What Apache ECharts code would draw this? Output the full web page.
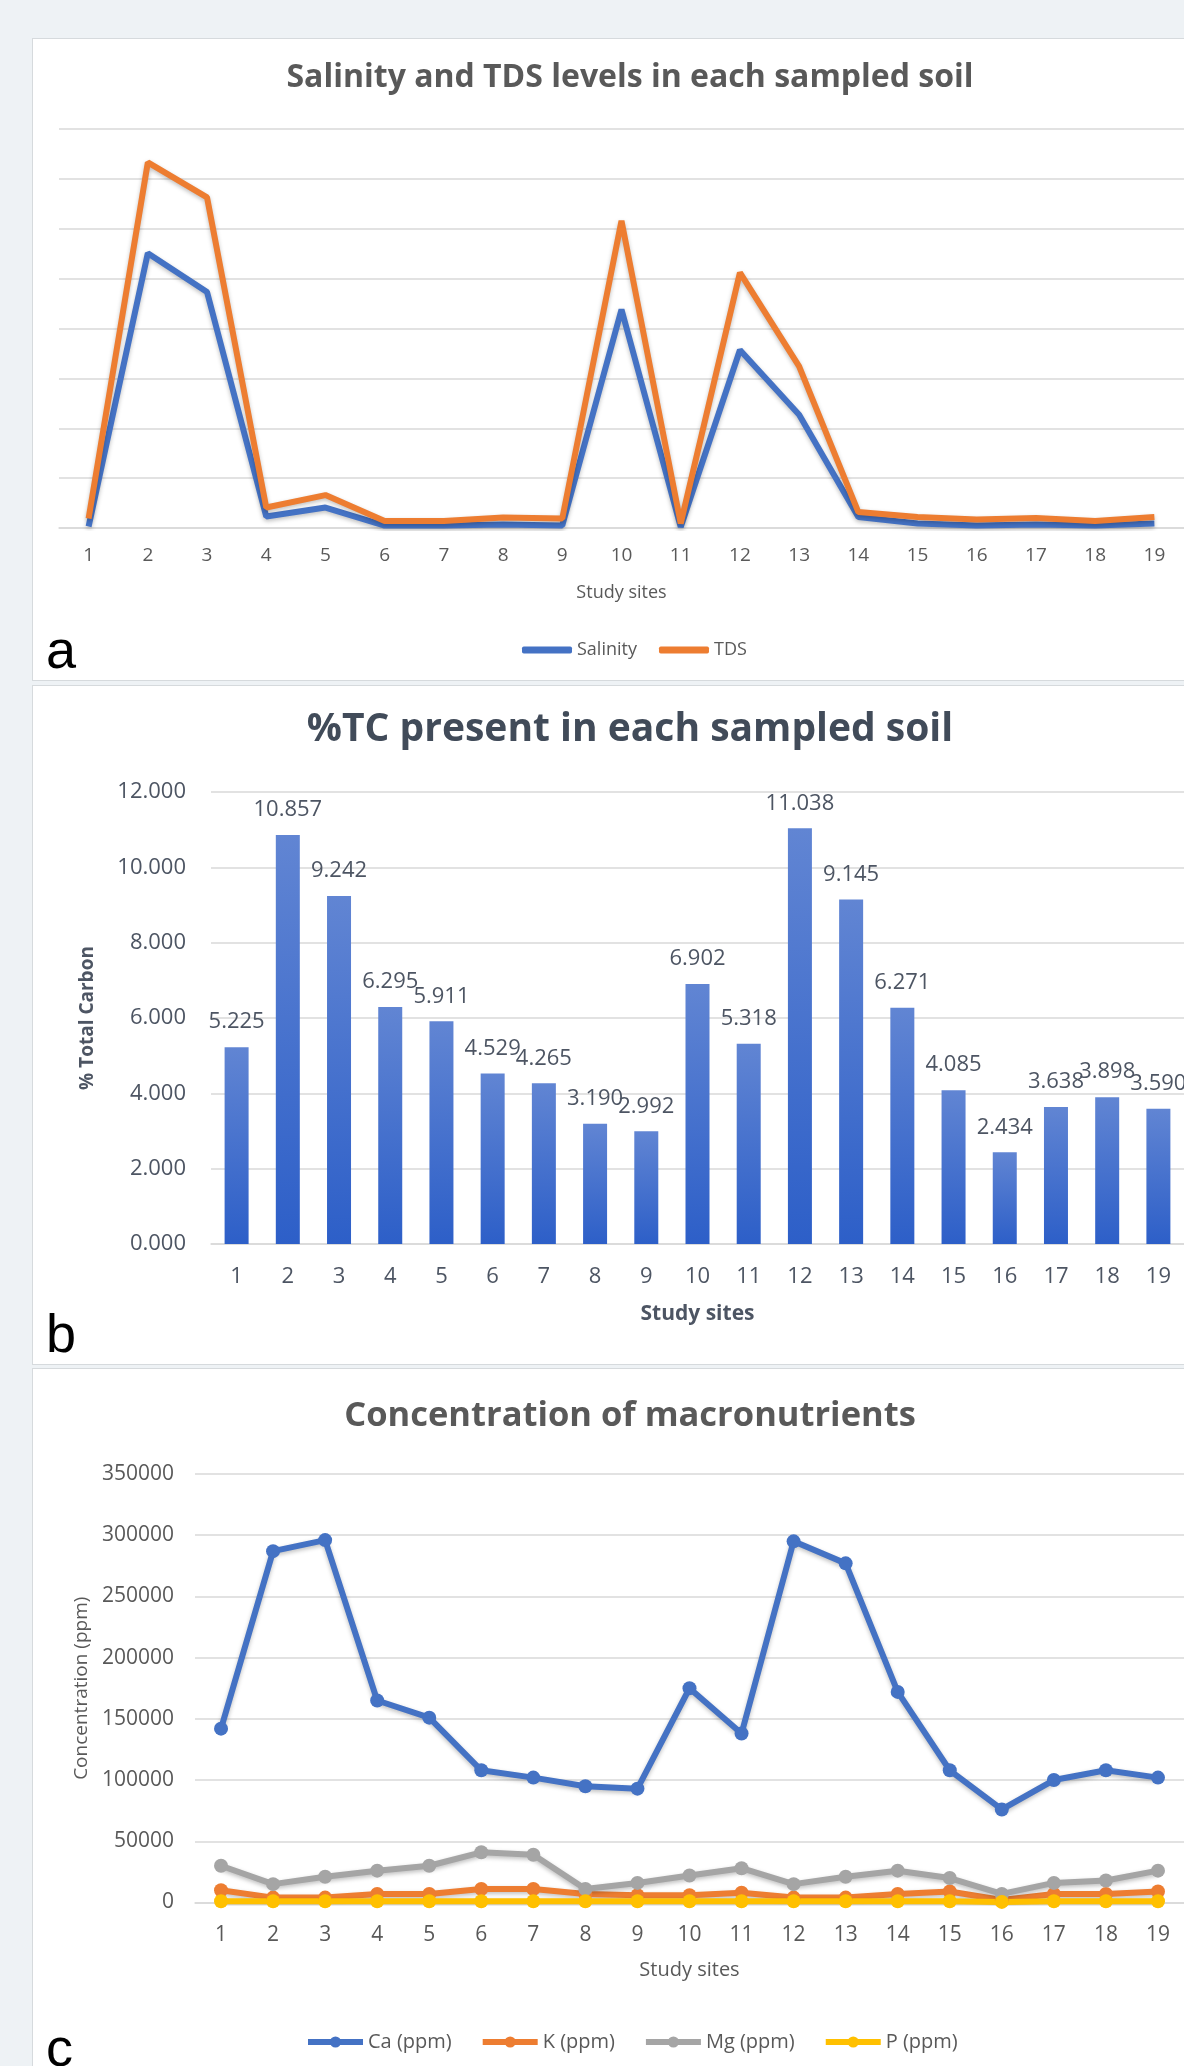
<!DOCTYPE html>
<html>
<head>
<meta charset="utf-8">
<script src="https://cdn.jsdelivr.net/npm/echarts@6/dist/echarts.min.js"></script>
<style>
  html, body { margin: 0; padding: 0; background: #eef2f5; }
  body { width: 1184px; height: 2066px; position: relative; overflow: hidden; }
  .card { position: absolute; left: 32px; width: 1210px; background: #fff; border: 1px solid #d6dadd; box-sizing: border-box; }
  #main { position: absolute; left: 0; top: 0; width: 1184px; height: 2066px; }
</style>
</head>
<body>
<div class="card" style="top:38px;height:643px"></div>
<div class="card" style="top:685px;height:680px"></div>
<div class="card" style="top:1368px;height:720px"></div>
<div id="main"></div>
<script>
// study sites (x axis of all three panels)
const sites = ['1','2','3','4','5','6','7','8','9','10','11','12','13','14','15','16','17','18','19'];

// panel a - no y labels in the source, values read in grid units
const salinity = [0.03, 5.51, 4.73, 0.23, 0.41, 0.05, 0.05, 0.07, 0.05, 4.38, 0.02, 3.57, 2.27, 0.22, 0.09, 0.05, 0.07, 0.05, 0.09];
const tds = [0.19, 7.33, 6.63, 0.41, 0.66, 0.14, 0.14, 0.21, 0.19, 6.16, 0.09, 5.12, 3.24, 0.32, 0.22, 0.17, 0.2, 0.14, 0.22];

// panel b
const totalCarbon = [5.225, 10.857, 9.242, 6.295, 5.911, 4.529, 4.265, 3.190, 2.992, 6.902, 5.318, 11.038, 9.145, 6.271, 4.085, 2.434, 3.638, 3.898, 3.590];

// panel c (ppm)
const calcium = [142000, 287000, 296000, 165000, 151000, 108000, 102000, 95000, 93000, 175000, 138000, 295000, 277000, 172000, 108000, 76000, 100000, 108000, 102000];
const potassium = [10000, 4000, 4000, 7000, 7000, 11000, 11000, 7000, 6000, 6000, 8000, 4000, 4000, 7000, 9000, 2000, 7000, 7000, 9000];
const magnesium = [30000, 15000, 21000, 26000, 30000, 41000, 39000, 11000, 16000, 22000, 28000, 15000, 21000, 26000, 20000, 7000, 16000, 18000, 26000];
const phosphorus = [1000, 1000, 1000, 1000, 1000, 1000, 1000, 1000, 1000, 1000, 1000, 1000, 1000, 1000, 1000, 500, 1000, 1000, 1000];

const FONT = 'Open Sans';
const GRAY = '#595959';
const SLATE = '#4d5563';
const GRID_LINE = { color: '#d9d9d9', width: 1.5 };

const chart = echarts.init(document.getElementById('main'));

function catAxis(idx, fontSize, margin, color, nameGap, nameBold) {
  return {
    type: 'category', gridIndex: idx, data: sites,
    axisTick: { show: false },
    axisLine: { lineStyle: GRID_LINE },
    axisLabel: { color: color, fontFamily: FONT, fontSize: fontSize, margin: margin },
    name: 'Study sites', nameLocation: 'middle', nameGap: nameGap,
    nameTextStyle: { color: color, fontFamily: FONT, fontSize: nameBold ? 21 : fontSize - 1, fontWeight: nameBold ? 'bold' : 'normal' }
  };
}

function lineSeries(name, data, color, axis, withSymbol) {
  return {
    name: name, type: 'line', data: data,
    xAxisIndex: axis, yAxisIndex: axis,
    symbol: withSymbol ? 'circle' : 'none', symbolSize: 14,
    lineStyle: { width: 6, color: color, shadowColor: 'rgba(0,0,0,0.25)', shadowBlur: 4, shadowOffsetY: 2 },
    itemStyle: { color: color },
    animation: false
  };
}

const option = {
  animation: false,
  title: [
    { text: 'Salinity and TDS levels in each sampled soil', left: 630, top: 62, textAlign: 'center', padding: 0,
      textStyle: { fontFamily: FONT, fontSize: 32, fontWeight: 'bold', color: GRAY } },
    { text: '%TC present in each sampled soil', left: 630, top: 710, textAlign: 'center', padding: 0,
      textStyle: { fontFamily: FONT, fontSize: 39, fontWeight: 'bold', color: '#414b59' } },
    { text: 'Concentration of macronutrients', left: 630, top: 1399, textAlign: 'center', padding: 0,
      textStyle: { fontFamily: FONT, fontSize: 34.5, fontWeight: 'bold', color: GRAY } },
    { text: 'a', left: 46, top: 626, padding: 0, textStyle: { fontFamily: 'Liberation Sans', fontSize: 54, fontWeight: 'normal', color: '#000' } },
    { text: 'b', left: 46, top: 1310, padding: 0, textStyle: { fontFamily: 'Liberation Sans', fontSize: 54, fontWeight: 'normal', color: '#000' } },
    { text: 'c', left: 46, top: 2024, padding: 0, textStyle: { fontFamily: 'Liberation Sans', fontSize: 54, fontWeight: 'normal', color: '#000' } }
  ],
  legend: [
    { data: ['Salinity', 'TDS'], left: 517, top: 636, icon: 'roundRect', itemWidth: 50, itemHeight: 7, itemGap: 22,
      textStyle: { fontFamily: FONT, fontSize: 18, color: GRAY } },
    { data: ['Ca (ppm)', 'K (ppm)', 'Mg (ppm)', 'P (ppm)'], left: 300, top: 2027, itemWidth: 55, itemHeight: 14, itemGap: 28,
      lineStyle: { width: 6 },
      textStyle: { fontFamily: FONT, fontSize: 20, color: GRAY } }
  ],
  grid: [
    { left: 59, top: 129, width: 1139, height: 399 },
    { left: 211, top: 792, width: 983, height: 452 },
    { left: 195, top: 1474, width: 999, height: 428.5 }
  ],
  xAxis: [
    catAxis(0, 19, 18, GRAY, 56, false),
    catAxis(1, 22, 22, SLATE, 60, true),
    catAxis(2, 21, 22, GRAY, 58, false)
  ],
  yAxis: [
    { type: 'value', gridIndex: 0, min: 0, max: 8, interval: 1,
      axisLabel: { show: false }, axisLine: { show: false }, axisTick: { show: false },
      splitLine: { lineStyle: GRID_LINE } },
    { type: 'value', gridIndex: 1, min: 0, max: 12, interval: 2,
      axisLabel: { color: SLATE, fontFamily: FONT, fontSize: 22, margin: 25, formatter: v => v.toFixed(3) },
      axisLine: { show: false }, axisTick: { show: false },
      splitLine: { lineStyle: GRID_LINE },
      name: '% Total Carbon', nameLocation: 'middle', nameGap: 114,
      nameTextStyle: { color: SLATE, fontFamily: FONT, fontSize: 19, fontWeight: 'bold' } },
    { type: 'value', gridIndex: 2, min: 0, max: 350000, interval: 50000,
      axisLabel: { color: GRAY, fontFamily: FONT, fontSize: 21, margin: 21, formatter: v => String(v) },
      axisLine: { show: false }, axisTick: { show: false },
      splitLine: { lineStyle: GRID_LINE },
      name: 'Concentration (ppm)', nameLocation: 'middle', nameGap: 102,
      nameTextStyle: { color: GRAY, fontFamily: FONT, fontSize: 19 } }
  ],
  series: [
    lineSeries('Salinity', salinity, '#4472c4', 0, false),
    lineSeries('TDS', tds, '#ed7d31', 0, false),
    {
      name: '%TC', type: 'bar', data: totalCarbon, xAxisIndex: 1, yAxisIndex: 1, barWidth: 24,
      itemStyle: { color: new echarts.graphic.LinearGradient(0, 0, 0, 1, [
        { offset: 0, color: '#6185d3' }, { offset: 1, color: '#2d5fc8' }]) },
      label: { show: true, position: 'top', distance: 14, color: SLATE, fontFamily: FONT, fontSize: 22,
        formatter: p => p.value.toFixed(3) }
    },
    lineSeries('Ca (ppm)', calcium, '#4472c4', 2, true),
    lineSeries('K (ppm)', potassium, '#ed7d31', 2, true),
    lineSeries('Mg (ppm)', magnesium, '#a5a5a5', 2, true),
    lineSeries('P (ppm)', phosphorus, '#ffc000', 2, true)
  ]
};

chart.setOption(option);
</script>
</body>
</html>
